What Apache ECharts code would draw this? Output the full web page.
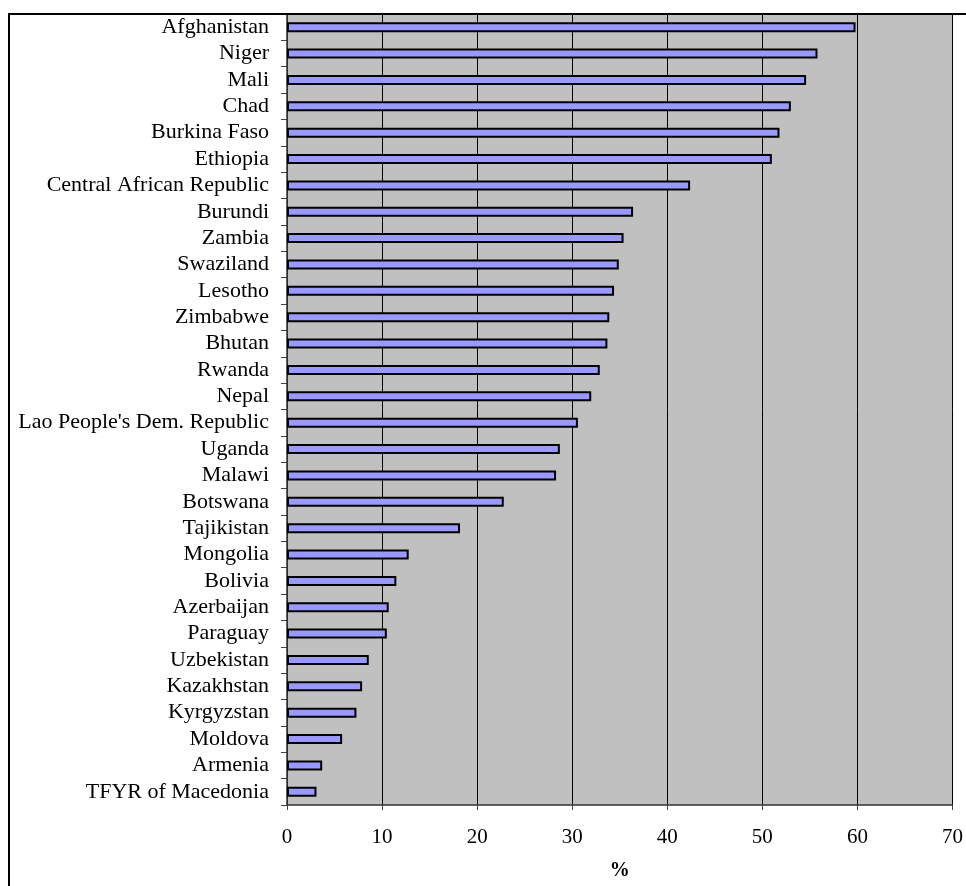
<!DOCTYPE html>
<html>
<head>
<meta charset="utf-8">
<script src="https://cdn.jsdelivr.net/npm/echarts@6/dist/echarts.min.js"></script>
<style>
html,body{margin:0;padding:0;background:#fff;}
#chart{width:966px;height:886px;}
</style>
</head>
<body>
<div id="chart"></div>
<script>
const countries = ["Afghanistan","Niger","Mali","Chad","Burkina Faso","Ethiopia","Central African Republic","Burundi","Zambia","Swaziland","Lesotho","Zimbabwe","Bhutan","Rwanda","Nepal","Lao People's Dem. Republic","Uganda","Malawi","Botswana","Tajikistan","Mongolia","Bolivia","Azerbaijan","Paraguay","Uzbekistan","Kazakhstan","Kyrgyzstan","Moldova","Armenia","TFYR of Macedonia"];
const values = [59.8,55.8,54.6,53.0,51.8,51.0,42.4,36.4,35.4,34.9,34.4,33.9,33.7,32.9,32.0,30.6,28.7,28.3,22.8,18.2,12.8,11.5,10.7,10.5,8.6,7.9,7.3,5.8,3.7,3.1];
const xTicks = {min:0, max:70, interval:10};
const axisTitle = "%";

const font = "'Liberation Serif', 'Times New Roman', serif";
const chart = echarts.init(document.getElementById('chart'));
chart.setOption({
  animation:false,
  backgroundColor:'#ffffff',
  grid:{left:287, right:13, top:14, bottom:79, show:true, backgroundColor:'#C0C0C0', borderColor:'#808080', borderWidth:1},
  xAxis:{
    type:'value', min:xTicks.min, max:xTicks.max, interval:xTicks.interval,
    name:axisTitle, nameLocation:'middle', nameGap:56,
    nameTextStyle:{fontFamily:font, fontSize:20, fontWeight:'bold', color:'#000'},
    axisLine:{show:true, lineStyle:{color:'#404040', width:1.5}},
    axisTick:{show:true, length:5, lineStyle:{color:'#404040'}},
    axisLabel:{fontFamily:font, fontSize:21, color:'#000', margin:22},
    splitLine:{show:true, lineStyle:{color:'#000', width:1}}
  },
  yAxis:{
    type:'category', data:countries, inverse:true,
    axisLine:{show:true, lineStyle:{color:'#404040', width:1.5}},
    axisTick:{show:true, length:6, lineStyle:{color:'#404040'}},
    axisLabel:{fontFamily:font, fontSize:22, color:'#000', margin:18, interval:0},
    splitLine:{show:false}
  },
  series:[{
    type:'bar', data:values, barWidth:10,
    itemStyle:{color:'#9999FF', borderColor:'#000', borderWidth:2}
  }],
  graphic:[{
    type:'rect', z:100, silent:true,
    shape:{x:9, y:14, width:1000, height:1000},
    style:{fill:'none', stroke:'#000', lineWidth:2}
  }]
});
</script>
</body>
</html>
